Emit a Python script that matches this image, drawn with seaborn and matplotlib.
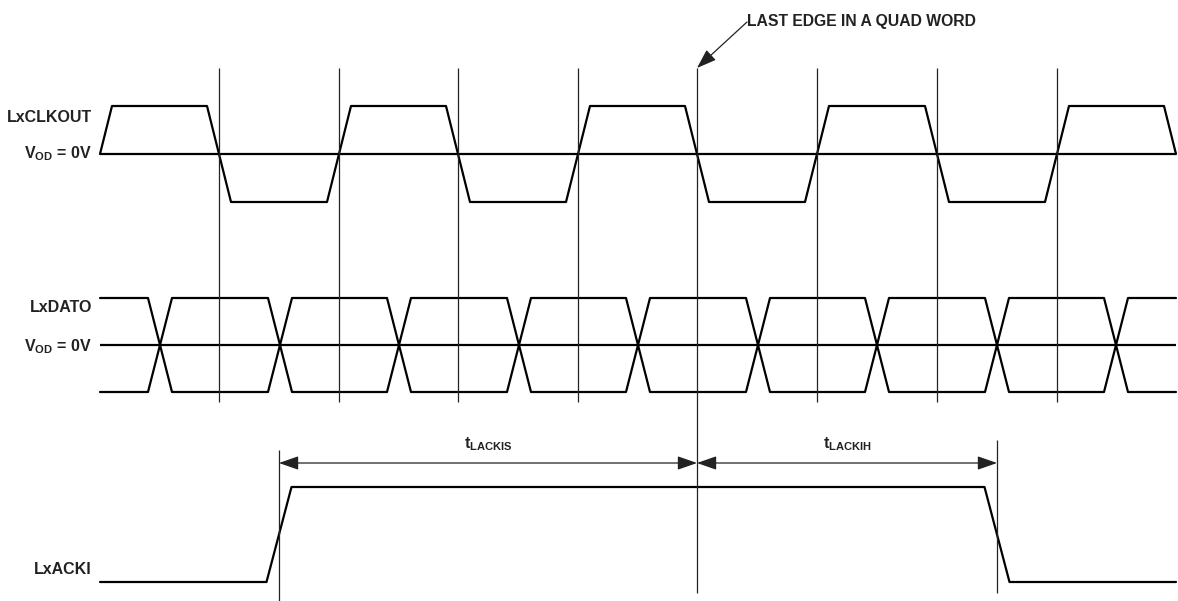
import matplotlib
matplotlib.use("Agg")
import matplotlib.pyplot as plt
import numpy as np
import pandas as pd
import seaborn as sns

# timing points (horizontal units = pixels of the original)
clk_edges = [100, 219, 339, 458, 578, 697, 817, 937, 1057, 1176]   # first edge rising
dat_cross = [160, 280, 399, 519, 638, 758, 877, 997, 1116]
ack_rise = 279
ack_fall = 997
last_edge = 697
t_start, t_stop = 100, 1176

signal_names = ["LxCLKOUT", "LxDATO", "LxACKI"]
spec_names = ["LACKIS", "LACKIH"]
note_text = "LAST EDGE IN A QUAD WORD"

# layout (vertical positions in figure pixels, y grows downward)
clk_mid, clk_amp = 154, 48
dat_mid, dat_amp = 345, 47
ack_lo, ack_hi = 582, 487
tr = 12

sns.set_theme(style="white")
plt.rcParams['font.family'] = ['Liberation Sans', 'DejaVu Sans']
plt.rcParams['mathtext.fontset'] = 'custom'
plt.rcParams['mathtext.rm'] = 'Liberation Sans'
plt.rcParams['mathtext.bf'] = 'Liberation Sans:bold'


def clock_wave(edges, mid, amp):
    hi, lo = mid - amp, mid + amp
    xs, ys = [edges[0]], [mid]
    xs.append(edges[0] + tr); ys.append(hi)
    level = hi
    for e in edges[1:-1]:
        new = lo if level == hi else hi
        xs += [e - tr, e + tr]
        ys += [level, new]
        level = new
    xs += [edges[-1] - tr, edges[-1]]
    ys += [level, mid]
    return pd.DataFrame({"t": xs, "v": ys})


def data_wave(cross, mid, amp, start_high):
    hi, lo = mid - amp, mid + amp
    level = hi if start_high else lo
    xs, ys = [t_start], [level]
    for c in cross:
        new = lo if level == hi else hi
        xs += [c - tr, c + tr]
        ys += [level, new]
        level = new
    xs.append(t_stop); ys.append(level)
    return pd.DataFrame({"t": xs, "v": ys})


clk = clock_wave(clk_edges, clk_mid, clk_amp)
dat_a = data_wave(dat_cross, dat_mid, dat_amp, True)
dat_b = data_wave(dat_cross, dat_mid, dat_amp, False)
ack = pd.DataFrame({
    "t": [t_start, ack_rise - 12.5, ack_rise + 12.5, ack_fall - 12.5, ack_fall + 12.5, t_stop],
    "v": [ack_lo, ack_lo, ack_hi, ack_hi, ack_lo, ack_lo]})

fig = plt.figure(figsize=(11.78, 6.01), dpi=100)
ax = fig.add_axes([0, 0, 1, 1])

wave_kw = dict(x="t", y="v", sort=False, estimator=None, color="black", lw=1.6, ax=ax)
for df in (clk, dat_a, dat_b, ack):
    sns.lineplot(data=df, **wave_kw)
# zero-level reference lines
ax.hlines([clk_mid, dat_mid], t_start, t_stop, color="black", lw=1.6)

# edge markers
ax.vlines([e for e in clk_edges[1:-1] if e != last_edge], 68, 402, color="#222222", lw=0.9)
ax.vlines([last_edge], 68, 593, color="#222222", lw=0.9)
ax.vlines([ack_rise], 450, 601, color="#222222", lw=0.9)
ax.vlines([ack_fall], 440, 593, color="#222222", lw=0.9)

# dimension arrows
arr_y = 463
for (a, b), name in zip([(ack_rise, last_edge), (last_edge, ack_fall)], spec_names):
    ax.annotate("", xy=(a, arr_y), xytext=(b, arr_y),
                arrowprops=dict(arrowstyle="<|-|>,head_length=1.0,head_width=0.35",
                                color="#222222", lw=0.9, shrinkA=0, shrinkB=0))
    ax.text((a + b) / 2, 448, r"$\mathbf{t}_{\mathbf{%s}}$" % name, ha="center",
            va="baseline", fontsize=11.5, color="#222222")

# callout
ax.annotate("", xy=(last_edge, 68), xytext=(747, 22),
            arrowprops=dict(arrowstyle="-|>,head_length=1.0,head_width=0.35",
                            color="#222222", lw=0.9, shrinkA=0, shrinkB=0))
ax.text(747, 26, note_text, ha="left", va="baseline", fontsize=11.3,
        fontweight="bold", color="#222222")

# signal labels
lab_kw = dict(ha="right", va="baseline", fontsize=11.5, fontweight="bold", color="#222222")
ax.text(92, 122, signal_names[0], **lab_kw)
ax.text(92, 158, r"$\mathbf{V}_{\mathbf{OD}}$ = 0V", **lab_kw)
ax.text(92, 312, signal_names[1], **lab_kw)
ax.text(92, 351, r"$\mathbf{V}_{\mathbf{OD}}$ = 0V", **lab_kw)
ax.text(92, 574, signal_names[2], **lab_kw)

ax.set_xlim(0, 1178)
ax.set_ylim(601, 0)
ax.axis("off")
fig.savefig("out.png", dpi=100, facecolor="white")
